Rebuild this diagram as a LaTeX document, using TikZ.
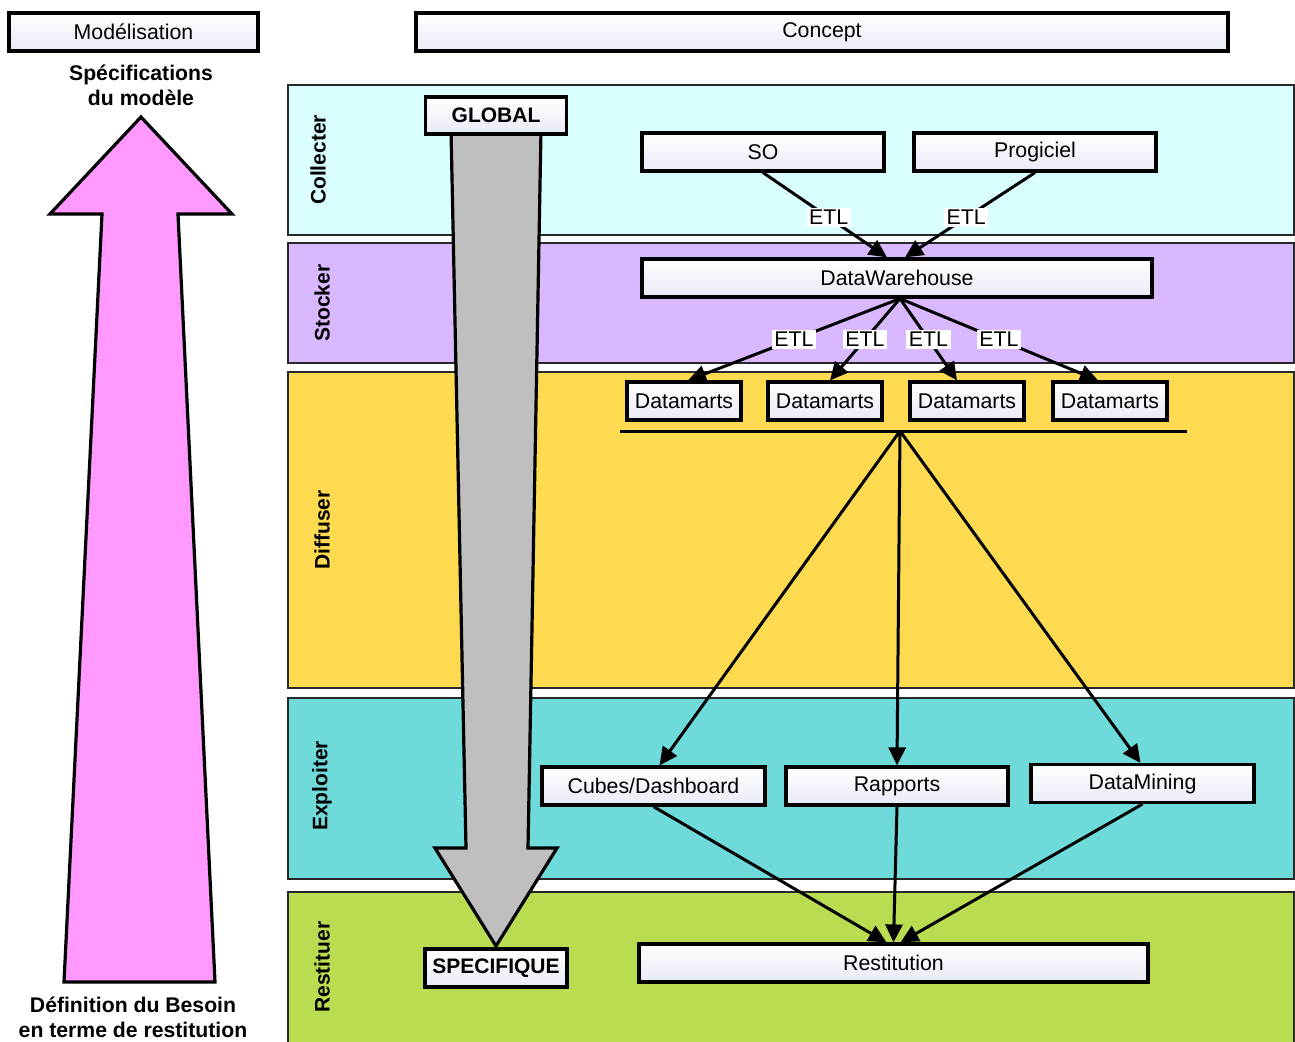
\documentclass[tikz,border=0pt]{standalone}
\usepackage{fontspec}
\setmainfont{Liberation Sans}
\usetikzlibrary{arrows.meta,calc}
\definecolor{cCol}{RGB}{217,255,255}
\definecolor{cSto}{RGB}{217,184,255}
\definecolor{cDif}{RGB}{253,218,80}
\definecolor{cExp}{RGB}{111,218,218}
\definecolor{cRes}{RGB}{185,220,80}
\definecolor{cPink}{RGB}{255,153,255}
\definecolor{cGray}{RGB}{191,191,191}
\definecolor{boxb}{RGB}{232,235,247}
\definecolor{bandline}{RGB}{40,40,40}
\begin{document}
\begin{tikzpicture}[x=1pt,y=-1pt,
 box/.style={draw=black,line width=3.2pt,top color=white,bottom color=boxb,minimum height=38pt,inner sep=0pt,font=\fontsize{21.3}{24}\selectfont},
 bbox/.style={box,font=\fontsize{21}{24}\selectfont\bfseries},
 band/.style={draw=bandline,line width=1.5pt},
 bandlab/.style={rotate=90,font=\fontsize{21}{24}\selectfont\bfseries},
 captext/.style={font=\fontsize{21.2}{25}\selectfont\bfseries,align=center},
 conn/.style={line width=3pt,-{Triangle[length=18pt,width=17pt]}},
 etl/.style={fill=white,inner xsep=2.5pt,inner ysep=2pt,font=\fontsize{21.3}{24}\selectfont},
 bigarrow/.style={draw=black,line width=3.2pt},
]
\useasboundingbox (0,0) rectangle (1295,1041);
\fill[white] (0,0) rectangle (1295,1041);

% bands
\draw[band,fill=cCol] (288,85) rectangle (1294,235);
\draw[band,fill=cSto] (288,243) rectangle (1294,363);
\draw[band,fill=cDif] (288,372) rectangle (1294,688);
\draw[band,fill=cExp] (288,698) rectangle (1294,879);
\draw[band,fill=cRes] (288,892) rectangle (1294,1046);

\node[bandlab] (lcol) at (318,160) {Collecter};
\node[bandlab] (lsto) at (322,303) {Stocker};
\node[bandlab] (ldif) at (322,530) {Diffuser};
\node[bandlab] (lexp) at (322,786) {Exploiter};
\node[bandlab] (lres) at (322,967) {Restituer};

% headers
\node[box,minimum width=249pt] (model) at (133.5,32) {Modélisation};
\node[box,minimum width=812pt] (concept) at (822,32) {Concept};

% pink arrow
\draw[bigarrow,fill=cPink] (141,117) -- (232,214) -- (178,214) -- (215,982) -- (64,982) -- (102,214) -- (50,214) -- cycle;
\node[captext] (spec) at (141,85) {Spécifications\\du modèle};
\node[captext] (besoin) at (133,1017) {Définition du Besoin\\en terme de restitution};

% gray arrow
\draw[bigarrow,fill=cGray] (451,130) -- (466,848) -- (435,848) -- (496,946) -- (557,848) -- (528,848) -- (541,130) -- cycle;
\node[bbox,minimum width=141pt,minimum height=37pt] (global) at (496,115.5) {GLOBAL};
\node[bbox,minimum width=142pt] (specif) at (496,968) {SPECIFIQUE};

% nodes
\node[box,minimum width=242pt] (so) at (763,152) {SO};
\node[box,minimum width=242pt] (prog) at (1035,152) {Progiciel};
\node[box,minimum width=510pt] (dw) at (897,278) {DataWarehouse};
\node[box,minimum width=114pt] (dm1) at (684,401) {Datamarts};
\node[box,minimum width=114pt] (dm2) at (825,401) {Datamarts};
\node[box,minimum width=114pt] (dm3) at (967,401) {Datamarts};
\node[box,minimum width=114pt] (dm4) at (1110,401) {Datamarts};
\node[box,minimum width=223pt] (cubes) at (653.5,786) {Cubes/Dashboard};
\node[box,minimum width=222pt] (rapp) at (897,786) {Rapports};
\node[box,minimum width=223pt] (dmin) at (1142.5,783.5) {DataMining};
\node[box,minimum width=509pt] (resti) at (893.5,963) {Restitution};

\coordinate (barL) at (620,431);
\coordinate (barR) at (1187,431);
\coordinate (barM) at (900,431);
\draw[line width=3pt] (barL) -- (barR);

% connectors
\draw[conn] (so.south) -- node[etl,pos=0.53] {ETL} ([xshift=-10pt]dw.north);
\draw[conn] (prog.south) -- node[etl,pos=0.53] {ETL} ([xshift=8pt]dw.north);
\draw[conn] ([xshift=3pt]dw.south) -- node[etl,pos=0.5] {ETL} ([xshift=4pt]dm1.north);
\draw[conn] ([xshift=3pt]dw.south) -- node[etl,pos=0.5] {ETL} ([xshift=5pt]dm2.north);
\draw[conn] ([xshift=3pt]dw.south) -- node[etl,pos=0.5] {ETL} ([xshift=-10pt]dm3.north);
\draw[conn] ([xshift=3pt]dw.south) -- node[etl,pos=0.5] {ETL} ([xshift=-12pt]dm4.north);

\draw[conn] (barM) -- ([xshift=6pt]cubes.north);
\draw[conn] (barM) -- (rapp.north);
\draw[conn] (barM) -- ([xshift=-2pt]dmin.north);

\draw[conn] (cubes.south) -- ([xshift=-7pt]resti.north);
\draw[conn] (rapp.south) -- (resti.north);
\draw[conn] (dmin.south) -- ([xshift=7pt]resti.north);
\end{tikzpicture}
\end{document}
